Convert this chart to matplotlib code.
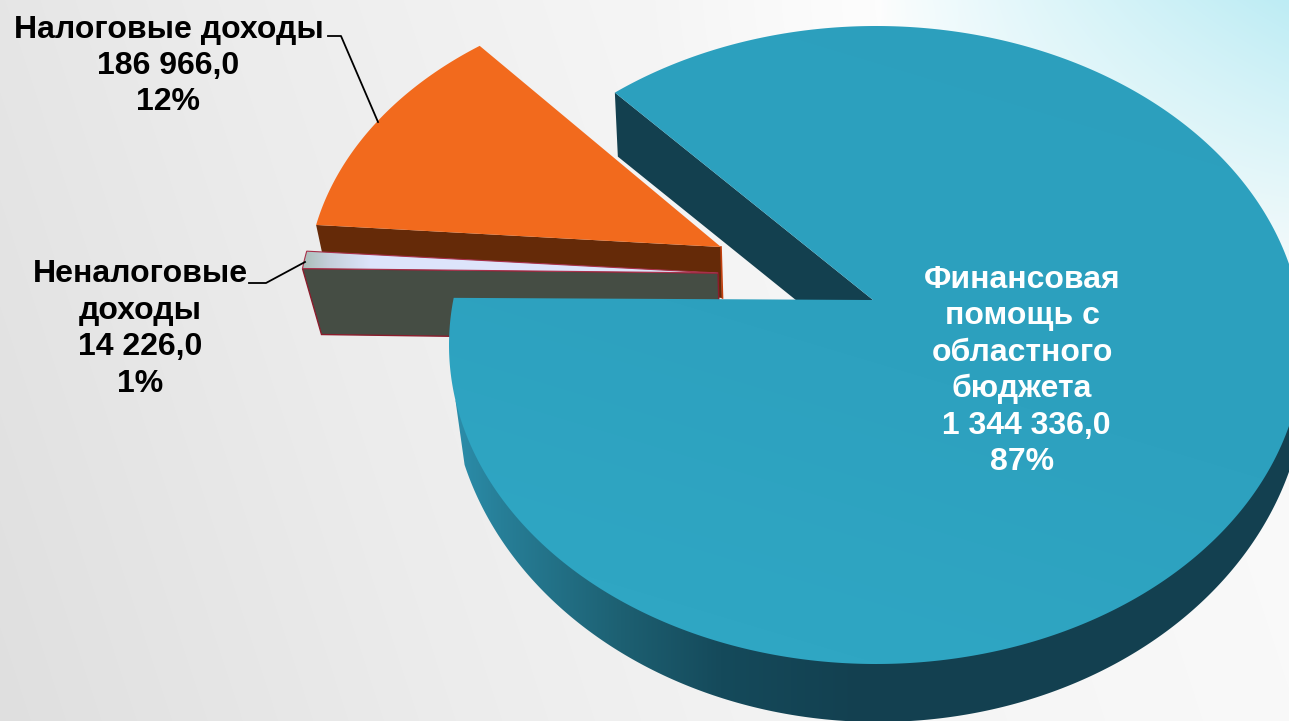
import numpy as np
import matplotlib
matplotlib.use("Agg")
import matplotlib.pyplot as plt
from matplotlib.patches import Polygon
from matplotlib.colors import to_rgb

categories = ["Финансовая\nпомощь с\nобластного\nбюджета", "Налоговые доходы", "Неналоговые\nдоходы"]
values = [1344336.0, 186966.0, 14226.0]
percents = [87, 12, 1]

W, H = 1289, 721
plt.rcParams["font.family"] = ["Liberation Sans", "DejaVu Sans"]
fig = plt.figure(figsize=(W / 100, H / 100), dpi=100)
ax = fig.add_axes([0, 0, 1, 1])
ax.set_xlim(0, W)
ax.set_ylim(H, 0)
ax.axis("off")

# background
yy, xx = np.mgrid[0:H, 0:W]
t_bg = xx + (H - yy) * 0.33
grey = np.interp(t_bg, [0, 450, 840, 1289, 1600], [0.875, 0.925, 0.958, 0.976, 0.99])
w = np.clip(1 - np.hypot(np.maximum(950 - xx, 0) / 300.0, yy / 350.0), 0, 1)
grey = grey * (1 - w) + w
bg = np.dstack([grey, grey, grey])
cyan = np.array(to_rgb("#bdecf4"))
k = (np.clip((xx - 880) / 410.0, 0, 1) ** 0.8 * np.clip(1 - yy / 300.0, 0, 1))[..., None]
bg = bg * (1 - k) + cyan * k
ax.imshow(bg, extent=(0, W, H, 0), aspect="auto", zorder=0)


def stops_image(t, stops):
    pos = [s[0] for s in stops]
    cols = np.array([to_rgb(s[1]) for s in stops])
    return np.dstack([np.interp(t, pos, cols[:, i]) for i in range(3)])


def grad_poly(pts, stops, direction=(1, 0), zorder=1):
    pts = np.asarray(pts)
    x0, y0 = np.floor(pts.min(axis=0))
    x1, y1 = np.ceil(pts.max(axis=0))
    gy, gx = np.mgrid[y0:y1 + 1, x0:x1 + 1]
    t = gx * direction[0] + gy * direction[1]
    im = ax.imshow(stops_image(t, stops), extent=(x0, x1 + 1, y1 + 1, y0),
                   aspect="auto", zorder=zorder, interpolation="bilinear")
    patch = Polygon(pts, closed=True, transform=ax.transData, fc="none", ec="none")
    ax.add_patch(patch)
    im.set_clip_path(patch)
    return im


def rim(center, rx, ry, t0, t1, n=240):
    t = np.radians(np.linspace(t0, t1, n))
    return np.column_stack([center[0] + rx * np.cos(t), center[1] - ry * np.sin(t)])


total = sum(values)
sweeps = [360 * v / total for v in values]

# --- orange slice (back)
o_apex = np.array([721.0, 247.0])
o_c = (718, 287)
o_end = 167.9
o_start = o_end - sweeps[1] * 0.975
o_rim = rim(o_c, 411, 296, o_start, o_end)
o_drop = np.array([6.0, 28.0])
ax.add_patch(Polygon([o_rim[-1], o_apex, o_apex + (1, 51), o_rim[-1] + o_drop],
                     fc="#652a08", ec="none", zorder=2))
ax.add_patch(Polygon(np.vstack([o_apex, o_rim]), fc="#f26a1d", ec="none", zorder=3))
ax.plot([o_apex[0], o_apex[0] + 1.5], [o_apex[1], o_apex[1] + 51], color="#c2410f", lw=1.2, zorder=3)

# --- small grey slice
g_apex = np.array([718.0, 273.0])
g_c = (718, 313)
g_start = 168.3
g_end = g_start + sweeps[2]
g_rim = rim(g_c, 420, 305, g_start, g_end, n=20)
g_low = g_rim[-1]
side = [g_low, g_apex, g_apex + (2, 67), g_low + (19, 66)]
ax.add_patch(Polygon(side, fc="#454d44", ec="#8b1c2c", lw=1.0, zorder=4))
top = np.vstack([g_apex, g_rim])
grad_poly(top, [(300, "#a9bcb6"), (330, "#c6d0dc"), (370, "#dde4fb"), (720, "#dde4fb")], zorder=5)
ax.add_patch(Polygon(top, fc="none", ec="#a8304a", lw=0.8, zorder=5))

# --- main blue slice
b_apex = np.array([873.0, 300.0])
b_c = (876, 345)
b_start = 171.5
b_end = b_start + sweeps[0] * 1.0098
b_rim = rim(b_c, 427, 319, b_start, b_end, n=720)

# outer lower wall, tapering into the rim of the top face on the left
taper = rim(b_c, 427, 319, 190, 190, n=1)
low = np.vstack([taper, rim((878, 375), 428, 347, 195, 360, n=360)])
grad_poly(low, [(450, "#2c8fac"), (500, "#277f98"), (620, "#1d6072"),
                (720, "#154a5b"), (860, "#134050"), (1320, "#134050")], zorder=6)

# cut wall at the back
rim_top = b_rim[-1]
shift = np.array([6.0, 67.0])
ax.add_patch(Polygon([rim_top, b_apex, b_apex + shift, rim_top + (3, 64)],
                     fc="#13404f", ec="none", zorder=6))

# top face
face = np.vstack([b_apex, b_rim])
grad_poly(face, [(-500, "#2c9fbd"), (100, "#2da1bf"), (400, "#2fa6c3"), (700, "#32aac8"), (1000, "#32aac8")],
          direction=(-0.3, 1), zorder=7)


def fmt(v):
    return f"{v:,.1f}".replace(",", " ").replace(".", ",")


# leader lines
ax.plot([328, 341, 378], [36, 36, 122], color="black", lw=1.3, zorder=8)
ax.plot([249, 266, 305], [283, 283, 262], color="black", lw=1.3, zorder=8)

fs = 23
spacing = 1.28
ax.text(1022, 371, f"{categories[0]}\n {fmt(values[0])}\n{percents[0]}%", color="white",
        fontsize=fs, fontweight="bold", ha="center", va="center", multialignment="center",
        linespacing=spacing, zorder=9)
ax.text(168.5, 66, f"{categories[1]}\n{fmt(values[1])}\n{percents[1]}%", color="black",
        fontsize=fs, fontweight="bold", ha="center", va="center", multialignment="center",
        linespacing=spacing, zorder=9)
ax.text(140, 329, f"{categories[2]}\n{fmt(values[2])}\n{percents[2]}%", color="black",
        fontsize=fs, fontweight="bold", ha="center", va="center", multialignment="center",
        linespacing=spacing, zorder=9)

ax.set_xlim(0, W)
ax.set_ylim(H, 0)
fig.savefig("out.png", dpi=100)
